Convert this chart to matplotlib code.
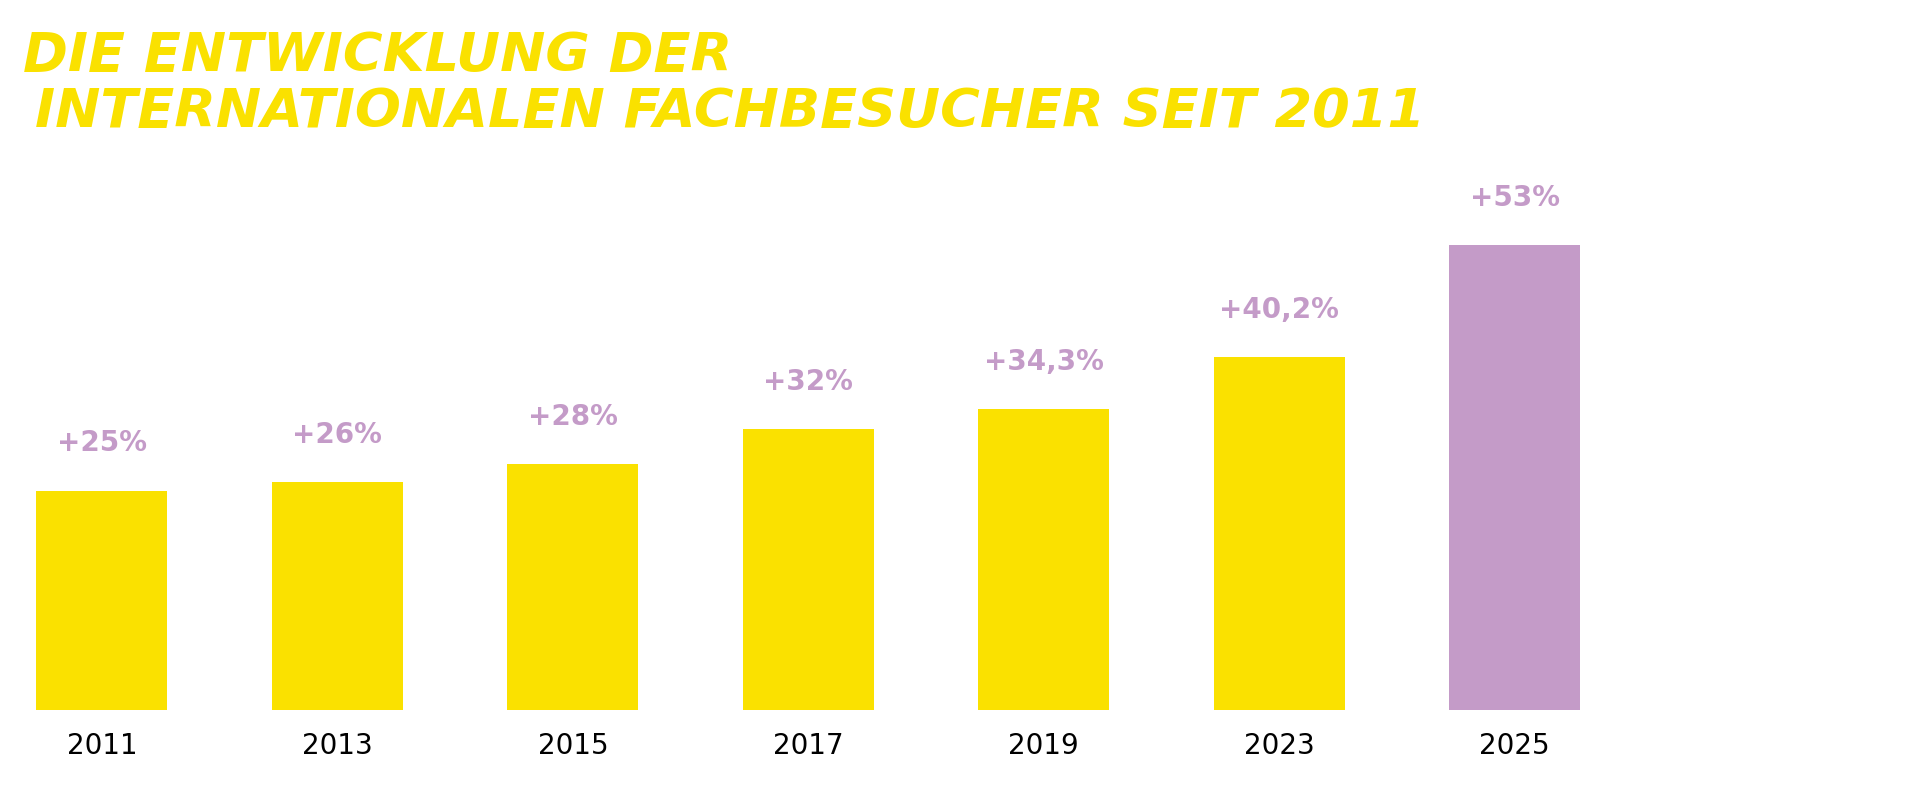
import matplotlib.pyplot as plt

plt.rcParams['font.family'] = ['DejaVu Sans']

years = ['2011', '2013', '2015', '2017', '2019', '2023', '2025']
values = [25, 26, 28, 32, 34.3, 40.2, 53]
labels = ['+25%', '+26%', '+28%', '+32%', '+34,3%', '+40,2%', '+53%']

YELLOW = '#FAE100'
PINK = '#C49BC8'
colors = [YELLOW] * 6 + [PINK]

fig = plt.figure(figsize=(19.2, 8.0), dpi=100)
ax = fig.add_axes([0.019, 0.113, 0.804, 0.657])

x = range(len(years))
width = 0.556
ax.bar(x, values, width, color=colors)

for i, (v, lab) in enumerate(zip(values, labels)):
    ax.annotate(lab, (i, v), xytext=(0, 24), textcoords='offset points',
                ha='center', va='bottom', color=PINK, fontsize=20, fontweight='bold')

ax.set_xlim(-width / 2, len(years) - 1 + width / 2)
ax.set_ylim(0, 60)
ax.set_xticks(list(x))
ax.set_xticklabels(years, fontsize=20)
ax.tick_params(axis='x', length=0, pad=16)
ax.set_yticks([])
for s in ax.spines.values():
    s.set_visible(False)

fig.text(0.012, 0.93, 'DIE ENTWICKLUNG DER', color=YELLOW, fontsize=39,
         fontweight='heavy', fontstyle='italic', va='center')
fig.text(0.018, 0.86, 'INTERNATIONALEN FACHBESUCHER SEIT 2011', color=YELLOW, fontsize=39,
         fontweight='heavy', fontstyle='italic', va='center')

fig.savefig('out.png', dpi=100)
